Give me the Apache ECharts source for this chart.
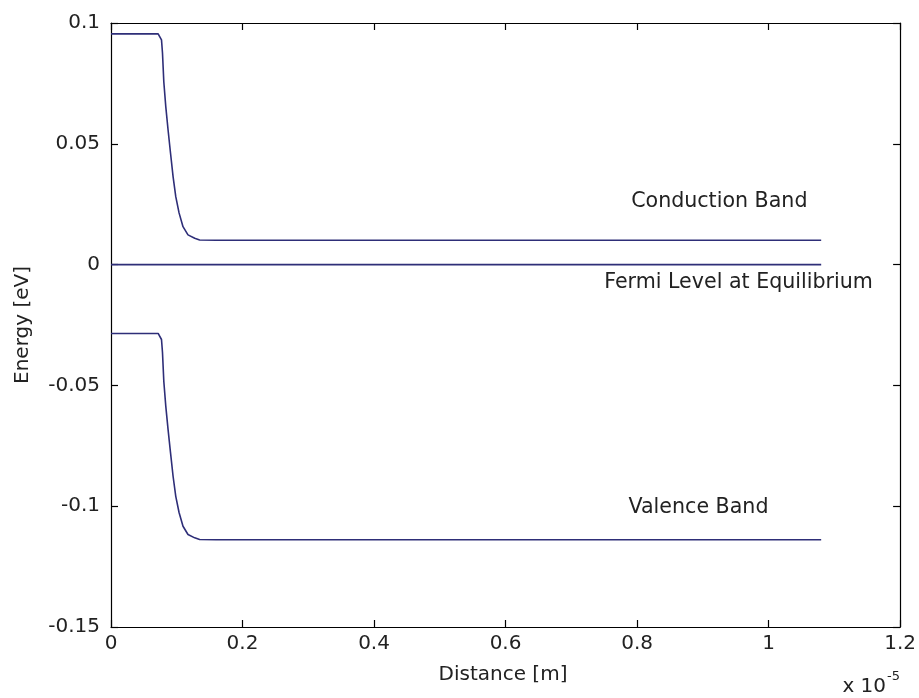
<!DOCTYPE html>
<html><head><meta charset="utf-8">
<script src="https://cdn.jsdelivr.net/npm/echarts@6/dist/echarts.min.js"></script>
<style>html,body{margin:0;padding:0;background:#fff}#c{width:919px;height:698px}</style>
</head><body><div id="c"></div>
<script>
// Distance in units of 1e-5 m
const distance   = [0, 0.0717, 0.0768, 0.0783, 0.0803, 0.0833, 0.0868, 0.0905, 0.0944, 0.0985, 0.1035, 0.1095, 0.1171, 0.1273, 0.1348, 0.16, 1.08];
const conduction = [0.0955, 0.0955, 0.0930, 0.0876, 0.0757, 0.0654, 0.0557, 0.0462, 0.0364, 0.0281, 0.0214, 0.0157, 0.0123, 0.0109, 0.0102, 0.0101, 0.0101];
const valence    = [-0.0285, -0.0285, -0.0310, -0.0364, -0.0483, -0.0586, -0.0683, -0.0778, -0.0876, -0.0959, -0.1026, -0.1083, -0.1117, -0.1131, -0.1138, -0.1139, -0.1139];
const fermiX     = [0, 1.08];
const fermiY     = [0, 0];
const xTickLabels = ['0', '0.2', '0.4', '0.6', '0.8', '1', '1.2'];
const yTickLabels = ['-0.15', '-0.1', '-0.05', '0', '0.05', '0.1'];
const annotations = [
  {text: 'Conduction Band', x: 0.791, y: 0.0259},
  {text: 'Fermi Level at Equilibrium', x: 0.750, y: -0.0076},
  {text: 'Valence Band', x: 0.787, y: -0.1007}
];

const FONT = 'DejaVu Sans';
const LINE = '#2e2e78';
const pair = (xs, ys) => xs.map((x, i) => [x, ys[i]]);

const chart = echarts.init(document.getElementById('c'), null, {renderer: 'canvas'});
const axisCommon = {
  type: 'value',
  axisLine: {show: true, onZero: false, lineStyle: {color: '#000', width: 1.2}},
  axisTick: {show: true, inside: true, length: 7, lineStyle: {color: '#000', width: 1.2}},
  splitLine: {show: false},
  axisLabel: {fontFamily: FONT, fontSize: 20, color: '#222'}
};
const xFmt = v => xTickLabels[Math.round(v / 0.2)];
const yFmt = v => yTickLabels[Math.round((v + 0.15) / 0.05)];

chart.setOption({
  backgroundColor: '#fff',
  animation: false,
  grid: {left: 111, right: 16, top: 23, bottom: 71, containLabel: false},
  xAxis: [
    Object.assign({}, axisCommon, {position: 'bottom', min: 0, max: 1.2, interval: 0.2,
      axisLabel: Object.assign({}, axisCommon.axisLabel, {margin: 7, formatter: xFmt})}),
    Object.assign({}, axisCommon, {position: 'top', min: 0, max: 1.2, interval: 0.2,
      axisLabel: {show: false}})
  ],
  yAxis: [
    Object.assign({}, axisCommon, {position: 'left', min: -0.15, max: 0.1, interval: 0.05,
      axisLabel: Object.assign({}, axisCommon.axisLabel, {margin: 11, formatter: yFmt})}),
    Object.assign({}, axisCommon, {position: 'right', min: -0.15, max: 0.1, interval: 0.05,
      axisLabel: {show: false}})
  ],
  series: [
    {type: 'line', name: 'Conduction Band', data: pair(distance, conduction), showSymbol: false, lineStyle: {color: LINE, width: 1.6}},
    {type: 'line', name: 'Fermi Level', data: pair(fermiX, fermiY), showSymbol: false, lineStyle: {color: LINE, width: 1.6}},
    {type: 'line', name: 'Valence Band', data: pair(distance, valence), showSymbol: false, lineStyle: {color: LINE, width: 1.6}}
  ]
});

const graphics = annotations.map(a => {
  const p = chart.convertToPixel({gridIndex: 0}, [a.x, a.y]);
  return {type: 'text', x: p[0], y: p[1],
    style: {text: a.text, fontFamily: FONT, fontSize: 20.6, fill: '#222', align: 'left', verticalAlign: 'middle'}};
});
graphics.push({type: 'text', x: 23, y: 325, rotation: Math.PI / 2,
  style: {text: 'Energy [eV]', fontFamily: FONT, fontSize: 20, fill: '#222', align: 'center', verticalAlign: 'middle'}});
graphics.push({type: 'text', x: 503, y: 675,
  style: {text: 'Distance [m]', fontFamily: FONT, fontSize: 20, fill: '#222', align: 'center', verticalAlign: 'middle'}});
graphics.push({type: 'text', x: 900, y: 697,
  style: {text: '{a|x 10}{b|-5}', align: 'right', verticalAlign: 'bottom',
    rich: {a: {fontFamily: FONT, fontSize: 20, fill: '#222', verticalAlign: 'bottom'},
           b: {fontFamily: FONT, fontSize: 13, fill: '#222', verticalAlign: 'top', padding: [0, 0, 14, 1]}}}});
chart.setOption({graphic: graphics});
</script></body></html>
